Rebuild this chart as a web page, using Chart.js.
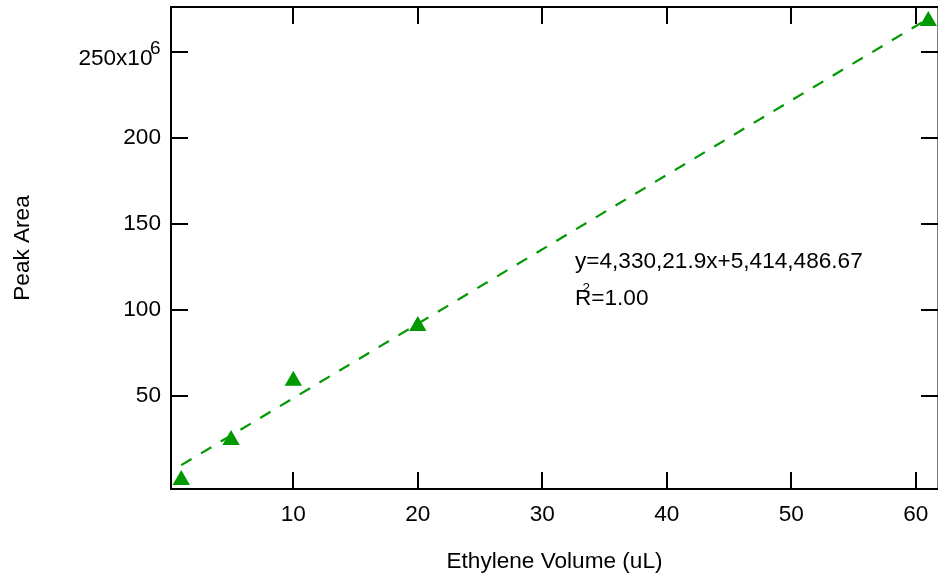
<!DOCTYPE html>
<html>
<head>
<meta charset="utf-8">
<script src="https://cdn.jsdelivr.net/npm/chart.js@4.4.1/dist/chart.umd.min.js"></script>
<style>
  html, body { margin: 0; padding: 0; background: #fff; }
  #calibChart { display: block; }
</style>
</head>
<body>
<canvas id="calibChart" width="938" height="580"></canvas>
<script>
// calibration points
const volumes = [1, 5, 10, 20, 61];
const peakAreas = [1100000, 24400000, 58900000, 90700000, 268100000];

// axis ticks
const volumeTicks = [10, 20, 30, 40, 50, 60];
const areaTicks = [50e6, 100e6, 150e6, 200e6, 250e6];

// linear fit, as printed on the plot
const fitSlope = 4330219;
const fitIntercept = 5414486.67;
const fitVolumes = [1, 61];
const fitLabel = "y=4,330,21.9x+5,414,486.67";
const r2Label = "=1.00";

const GREEN = "rgb(0,153,0)";
const FONT = "'Liberation Sans', Arial, sans-serif";
const SIZE = 22.6;
Chart.defaults.font.family = FONT;
Chart.defaults.font.size = SIZE;
Chart.defaults.color = "#000";

const points = volumes.map((v, i) => ({ x: v, y: peakAreas[i] }));
const fitPoints = fitVolumes.map(v => ({ x: v, y: fitSlope * v + fitIntercept }));

// fixed axis box sizes, no extra room for overhanging labels
function fixSize(prop, size) {
    return s => {
        s[prop] = size;
        s.paddingTop = s.paddingBottom = s.paddingLeft = s.paddingRight = 0;
    };
}

// closed box with inward ticks on every side + the text bits chart.js can't do
const frameTicks = {
    id: "frameTicks",
    beforeDatasetsDraw(chart) {
        const { ctx, chartArea: a, scales: { x, y } } = chart;
        const len = 17;
        ctx.save();
        ctx.strokeStyle = "#000";
        ctx.lineWidth = 2;
        ctx.strokeRect(a.left, a.top, a.right - a.left + 0.5, a.bottom - a.top);
        ctx.beginPath();
        volumeTicks.forEach(v => {
            const px = Math.round(x.getPixelForValue(v));
            ctx.moveTo(px, a.bottom); ctx.lineTo(px, a.bottom - len);
            ctx.moveTo(px, a.top); ctx.lineTo(px, a.top + len);
        });
        areaTicks.forEach(v => {
            const py = Math.round(y.getPixelForValue(v));
            ctx.moveTo(a.left, py); ctx.lineTo(a.left + len, py);
            ctx.moveTo(a.right, py); ctx.lineTo(a.right - len, py);
        });
        ctx.stroke();
        ctx.restore();
    },
    afterDraw(chart) {
        const { ctx, scales: { y } } = chart;
        ctx.save();
        ctx.fillStyle = "#000";
        ctx.textBaseline = "alphabetic";

        // top y label with exponent
        const top = areaTicks[areaTicks.length - 1];
        const py = y.getPixelForValue(top);
        ctx.font = SIZE + "px " + FONT;
        ctx.textAlign = "right";
        ctx.fillText(String(top / 1e6) + "x10", 152.5, py + 12.5);
        ctx.font = "19px " + FONT;
        ctx.textAlign = "left";
        ctx.fillText("6", 150, py + 2);

        // fit annotation
        ctx.font = SIZE + "px " + FONT;
        ctx.fillText(fitLabel, 575, 268);
        ctx.fillText("R", 575, 305);
        const rw = ctx.measureText("R").width;
        ctx.fillText(r2Label, 575 + rw, 305);
        ctx.font = "13.5px " + FONT;
        ctx.fillText("2", 582.5, 292);
        ctx.restore();
    }
};

new Chart(document.getElementById("calibChart"), {
    type: "scatter",
    data: {
        datasets: [
            {
                data: points,
                pointStyle: "triangle",
                pointRadius: 10,
                pointHoverRadius: 10,
                pointBorderWidth: 0,
                backgroundColor: GREEN,
                borderColor: GREEN
            },
            {
                data: fitPoints,
                showLine: true,
                borderColor: GREEN,
                borderWidth: 2.2,
                borderDash: [12, 11],
                pointRadius: 0,
                pointHoverRadius: 0
            }
        ]
    },
    options: {
        responsive: false,
        animation: false,
        clip: false,
        layout: { autoPadding: false, padding: { top: 7, left: 0, right: 0, bottom: 0 } },
        plugins: {
            legend: { display: false },
            tooltip: { enabled: false }
        },
        scales: {
            x: {
                type: "linear",
                position: "bottom",
                min: 0.177,
                max: 61.78,
                grid: { display: false, drawTicks: false },
                border: { display: false },
                ticks: { padding: 12 },
                afterBuildTicks: s => { s.ticks = volumeTicks.map(v => ({ value: v })); },
                afterFit: fixSize("height", 91),
                title: {
                    display: true,
                    text: "Ethylene Volume (uL)",
                    padding: { top: 0, bottom: 5 }
                }
            },
            y: {
                type: "linear",
                position: "left",
                min: -4.13e6,
                max: 276.3e6,
                grid: { display: false, drawTicks: false },
                border: { display: false },
                ticks: {
                    padding: 10,
                    callback: v => (v === areaTicks[areaTicks.length - 1] ? "" : String(v / 1e6))
                },
                afterBuildTicks: s => { s.ticks = areaTicks.map(v => ({ value: v })); },
                afterFit: fixSize("width", 171),
                title: {
                    display: true,
                    text: "Peak Area",
                    padding: { top: 9, bottom: 0 }
                }
            }
        }
    },
    plugins: [frameTicks]
});
</script>
</body>
</html>
